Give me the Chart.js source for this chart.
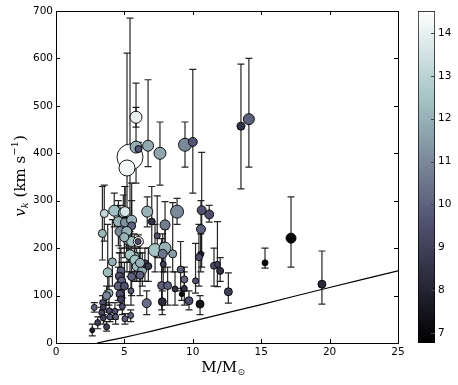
<!DOCTYPE html>
<html>
<head>
<meta charset="utf-8">
<script src="https://cdn.jsdelivr.net/npm/chart.js@4.4.1/dist/chart.umd.min.js"></script>
<style>
  html, body { margin: 0; padding: 0; background: #fff; }
  #wrap { position: relative; width: 458px; height: 385px; }
  #main { position: absolute; left: 0; top: 0; }
  #cbar { position: absolute; left: 400px; top: 0; }
</style>
</head>
<body>
<div id="wrap">
  <canvas id="main" width="458" height="385"></canvas>
  <canvas id="cbar" width="58" height="385"></canvas>
</div>
<script>
// ---------------- DATA ----------------
const massVals = [5.41, 5.19, 5.85, 5.85, 6.03, 6.73, 7.6, 9.43, 10.0, 13.52, 14.1, 17.18, 15.28, 19.44, 12.6,
  3.53, 4.26, 4.92, 5.04, 4.56, 5.04, 5.53, 5.53, 4.68, 5.17, 3.39, 5.29, 5.53, 6.02, 6.0,
  6.67, 7.0, 7.97, 7.4, 7.24, 7.97, 7.8, 8.53, 8.85, 5.72, 5.41, 5.77, 5.9, 6.31, 6.5, 6.75, 7.84,
  10.65, 11.2, 10.6, 10.58, 10.45, 11.55, 11.8, 12.0, 9.11, 9.38, 10.2, 7.72, 8.16, 8.7, 9.38, 9.19,
  7.77, 9.72, 10.53, 6.63,
  4.12, 3.78, 4.75, 4.63, 4.8, 4.55, 5.0, 5.48, 3.87, 3.7, 4.68, 4.75, 2.8, 3.41, 3.46, 3.9, 3.34,
  4.85, 4.31, 3.95, 4.36, 5.46, 5.04, 3.46, 3.05, 3.7, 2.65, 5.53, 6.14, 6.14, 4.99];
const vkVals = [392, 369, 476, 413, 409, 416, 400, 418, 424, 457, 472, 221, 169, 124, 108,
  273, 279, 275, 277, 256, 254, 259, 247, 235, 235, 231, 217, 214, 214, 214,
  277, 256, 249, 226, 196, 200, 188, 188, 277, 181, 186, 175, 161, 154, 167, 162, 166,
  280, 271, 240, 187, 181, 163, 166, 152, 155, 134, 131, 121, 121, 114, 115, 103,
  87, 89, 82, 84,
  171, 149, 152, 141, 131, 120, 120, 110, 105, 100, 103, 92, 75, 85, 75, 68, 64,
  77, 67, 55, 55, 58, 51, 53, 43, 34, 27, 140, 143, 169, 223];
const vkLow = [235, 150, 455, 337, 395, 372, 333, 371, 316, 325, 371, 160, 158, 82, 84,
  215, 245, 240, 230, 205, 200, 210, 200, 190, 190, 175, 170, 170, 200, 205,
  245, 200, 200, 180, 150, 150, 150, 150, 250, 150, 140, 130, 130, 120, 130, 130, 120,
  160, 255, 190, 150, 120, 120, 119, 130, 110, 110, 105, 70, 80, 80, 80, 90,
  60, 70, 60, 60,
  120, 110, 110, 100, 100, 90, 80, 80, 80, 80, 80, 70, 65, 70, 60, 55, 55,
  60, 50, 45, 40, 45, 40, 40, 30, 25, 15, 100, 100, 130, 180];
const vkHigh = [685, 611, 497, 548, 423, 555, 466, 466, 577, 588, 600, 308, 200, 194, 148,
  333, 316, 312, 330, 300, 330, 337, 300, 290, 285, 330, 260, 250, 228, 222,
  308, 330, 298, 310, 250, 240, 230, 296, 305, 230, 260, 215, 200, 190, 200, 200, 210,
  402, 290, 300, 230, 250, 200, 256, 180, 214, 160, 210, 220, 160, 150, 150, 115,
  110, 110, 100, 110,
  260, 250, 200, 190, 170, 160, 170, 150, 140, 120, 130, 120, 85, 100, 90, 85, 75,
  95, 85, 65, 70, 70, 62, 65, 55, 45, 40, 180, 190, 210, 265];
const colorVals = [14.5, 14.3, 14.0, 11.9, 9.6, 11.8, 11.7, 11.0, 9.6, 8.5, 10.0, 7.0, 7.1, 8.2, 9.0,
  13.2, 12.4, 12.5, 13.6, 12.0, 11.2, 12.0, 10.0, 11.0, 12.0, 12.2, 12.0, 12.5, 14.3, 9.5,
  12.0, 8.5, 10.7, 9.6, 12.5, 12.0, 10.5, 11.5, 11.0, 12.3, 12.5, 12.5, 12.3, 11.8, 9.0, 8.7, 9.0,
  9.6, 9.5, 10.0, 8.0, 9.5, 9.4, 9.0, 8.5, 10.0, 10.2, 9.6, 10.0, 10.0, 8.5, 8.5, 7.0,
  8.3, 9.5, 7.5, 10.3,
  12.0, 12.3, 10.0, 9.5, 10.0, 10.0, 9.5, 9.8, 12.0, 11.0, 9.5, 9.0, 10.0, 9.5, 9.0, 9.3, 9.3,
  9.5, 9.5, 9.8, 10.0, 10.0, 10.0, 9.0, 9.0, 9.0, 8.0, 10.0, 10.0, 12.0, 12.0];
const sizeVals = [13, 8, 6, 6, 3.5, 5.5, 6, 6.5, 4.5, 4, 5.5, 5, 3, 4, 4,
  4, 5.5, 5, 5, 5, 4.5, 5, 4, 5, 5, 4, 5, 5, 5, 3,
  5.5, 3.5, 5, 3, 6.5, 6, 4.5, 4, 6.5, 5, 5, 5, 4.5, 4.5, 4, 3.5, 3,
  4.5, 4.5, 4.5, 3, 3.5, 3.5, 3, 3.5, 3.5, 3.5, 3, 4, 4, 3, 3, 2.5,
  4, 4, 4, 4.5,
  4, 4.5, 4, 4, 4, 4, 4, 3, 4, 4, 4, 3.5, 3, 3, 3, 3, 3,
  3, 3, 3, 3, 3, 3, 3, 3, 3, 2.5, 4, 4, 4.5, 4.5];
const lineMass = [3, 5, 7, 10, 12.7, 15, 20, 25];
const lineVk = [0, 12, 25, 46, 65, 81, 117, 152];
const xTicks = [0, 5, 10, 15, 20, 25];
const yTicks = [0, 100, 200, 300, 400, 500, 600, 700];
const cbTicks = [7, 8, 9, 10, 11, 12, 13, 14];
const cbMin = 6.77, cbMax = 14.51;
const xTitleMain = 'M/M', xTitleSub = '\u2299';
const yTitleV = 'v', yTitleSub = 'k', yTitleUnit = ' (km s', yTitleSup = '\u22121', yTitleEnd = ')';

// ---------------- COLORMAP (bone) ----------------
function interp(pts, t) {
  for (let i = 1; i < pts.length; i++) {
    if (t <= pts[i][0]) {
      const [x0, y0] = pts[i - 1], [x1, y1] = pts[i];
      return y0 + (y1 - y0) * (t - x0) / (x1 - x0);
    }
  }
  return pts[pts.length - 1][1];
}
function boneT(t) {
  t = Math.max(0, Math.min(1, t));
  const r = interp([[0, 0], [0.746032, 0.652778], [1, 1]], t);
  const g = interp([[0, 0], [0.365079, 0.319444], [0.746032, 0.777778], [1, 1]], t);
  const b = interp([[0, 0], [0.365079, 0.444444], [1, 1]], t);
  return `rgb(${Math.round(r * 255)},${Math.round(g * 255)},${Math.round(b * 255)})`;
}
function bone(v) { return boneT((v - cbMin) / (cbMax - cbMin)); }

const tickFont = { family: 'DejaVu Sans', size: 10.5 };

// ---------------- PLUGINS ----------------
const errorBarPlugin = {
  id: 'errorBars',
  beforeDatasetsDraw(chart) {
    const ctx = chart.ctx, xs = chart.scales.x, ys = chart.scales.y;
    ctx.save();
    ctx.strokeStyle = 'rgba(20,20,20,0.92)';
    ctx.lineWidth = 1.2;
    for (let i = 0; i < massVals.length; i++) {
      const px = xs.getPixelForValue(massVals[i]);
      const yl = ys.getPixelForValue(vkLow[i]);
      const yh = ys.getPixelForValue(vkHigh[i]);
      ctx.beginPath();
      ctx.moveTo(px, yl); ctx.lineTo(px, yh);
      ctx.moveTo(px - 3.5, yl); ctx.lineTo(px + 3.5, yl);
      ctx.moveTo(px - 3.5, yh); ctx.lineTo(px + 3.5, yh);
      ctx.stroke();
    }
    ctx.restore();
  }
};

const framePlugin = {
  id: 'frame',
  afterDatasetsDraw(chart) {
    const ctx = chart.ctx, a = chart.chartArea, xs = chart.scales.x, ys = chart.scales.y;
    ctx.save();
    ctx.strokeStyle = '#000';
    ctx.lineWidth = 1;
    ctx.beginPath();
    xTicks.forEach(v => {
      const p = Math.round(xs.getPixelForValue(v)) + 0.5;
      ctx.moveTo(p, a.bottom); ctx.lineTo(p, a.bottom - 4);
      ctx.moveTo(p, a.top); ctx.lineTo(p, a.top + 4);
    });
    yTicks.forEach(v => {
      const p = Math.round(ys.getPixelForValue(v)) + 0.5;
      ctx.moveTo(a.left, p); ctx.lineTo(a.left + 4, p);
      ctx.moveTo(a.right, p); ctx.lineTo(a.right - 4, p);
    });
    ctx.stroke();
    ctx.strokeRect(Math.round(a.left) + 0.5, Math.round(a.top) + 0.5,
      Math.round(a.right - a.left), Math.round(a.bottom - a.top));
    ctx.restore();
  },
  afterDraw(chart) {
    const ctx = chart.ctx, a = chart.chartArea;
    ctx.save();
    ctx.fillStyle = '#000';
    ctx.textBaseline = 'alphabetic';
    // x title
    ctx.font = '15px "DejaVu Serif"';
    const wMain = ctx.measureText(xTitleMain).width;
    ctx.font = '9px "DejaVu Sans"';
    const wSub = ctx.measureText(xTitleSub).width;
    const cx = (a.left + a.right) / 2 - 4;
    let x0 = cx - (wMain + wSub) / 2;
    ctx.font = '15px "DejaVu Serif"';
    ctx.fillText(xTitleMain, x0, 372);
    ctx.font = '9px "DejaVu Sans"';
    ctx.fillText(xTitleSub, x0 + wMain + 0.5, 375);
    // y title (rotated)
    ctx.translate(25, 176);
    ctx.rotate(-Math.PI / 2);
    const parts = [
      { t: yTitleV, f: 'italic 15px "DejaVu Serif"', dy: 0 },
      { t: yTitleSub, f: 'italic 10px "DejaVu Serif"', dy: 3 },
      { t: yTitleUnit, f: '15px "DejaVu Serif"', dy: 0 },
      { t: yTitleSup, f: '10px "DejaVu Serif"', dy: -7 },
      { t: yTitleEnd, f: '15px "DejaVu Serif"', dy: 0 }
    ];
    let total = 0;
    parts.forEach(p => { ctx.font = p.f; p.w = ctx.measureText(p.t).width; total += p.w; });
    let xx = -total / 2;
    parts.forEach(p => { ctx.font = p.f; ctx.fillText(p.t, xx, p.dy); xx += p.w; });
    ctx.restore();
  }
};

// ---------------- MAIN CHART ----------------
new Chart(document.getElementById('main'), {
  type: 'scatter',
  data: {
    datasets: [
      {
        label: 'kicks',
        data: massVals.map((m, i) => ({ x: m, y: vkVals[i] })),
        pointRadius: sizeVals,
        pointBackgroundColor: colorVals.map(bone),
        pointBorderColor: '#000',
        pointBorderWidth: 0.9,
        order: 1
      },
      {
        type: 'line',
        label: 'limit',
        data: lineMass.map((m, i) => ({ x: m, y: lineVk[i] })),
        borderColor: '#000',
        borderWidth: 1.2,
        pointRadius: 0,
        showLine: true,
        fill: false,
        tension: 0.3,
        order: 2
      }
    ]
  },
  options: {
    responsive: false,
    animation: false,
    events: [],
    layout: { padding: { left: 0, right: 60, top: 11, bottom: 0 }, autoPadding: false },
    plugins: { legend: { display: false }, tooltip: { enabled: false } },
    scales: {
      x: {
        type: 'linear', min: 0, max: 25,
        afterBuildTicks: s => { s.ticks = xTicks.map(v => ({ value: v })); },
        afterFit: s => { s.height = 42; },
        ticks: { font: tickFont, color: '#000', padding: 3, maxRotation: 0, autoSkip: false },
        grid: { display: false, drawTicks: false },
        border: { display: false }
      },
      y: {
        type: 'linear', min: 0, max: 700,
        afterBuildTicks: s => { s.ticks = yTicks.map(v => ({ value: v })); },
        afterFit: s => { s.width = 56; },
        ticks: { font: tickFont, color: '#000', padding: 3, autoSkip: false },
        grid: { display: false, drawTicks: false },
        border: { display: false }
      }
    }
  },
  plugins: [errorBarPlugin, framePlugin]
});

// ---------------- COLORBAR ----------------
const cbTickPlugin = {
  id: 'cbTicks',
  afterDatasetsDraw(chart) {
    const ctx = chart.ctx, a = chart.chartArea, ys = chart.scales.y;
    ctx.save();
    ctx.strokeStyle = '#444';
    ctx.lineWidth = 1;
    ctx.beginPath();
    cbTicks.forEach(v => {
      const p = Math.round(ys.getPixelForValue(v)) + 0.5;
      ctx.moveTo(a.right - 4, p); ctx.lineTo(a.right, p);
    });
    ctx.stroke();
    ctx.restore();
  }
};

new Chart(document.getElementById('cbar'), {
  type: 'bar',
  data: {
    labels: [''],
    datasets: [{
      data: [[cbMin, cbMax]],
      backgroundColor: (c) => {
        const area = c.chart.chartArea;
        if (!area) return '#888';
        const g = c.chart.ctx.createLinearGradient(0, area.bottom, 0, area.top);
        for (let k = 0; k <= 40; k++) g.addColorStop(k / 40, boneT(k / 40));
        return g;
      },
      borderColor: '#000',
      borderWidth: 1,
      borderSkipped: false,
      barPercentage: 1,
      categoryPercentage: 1
    }]
  },
  options: {
    responsive: false,
    animation: false,
    events: [],
    layout: { padding: { left: 18, right: 0, top: 11, bottom: 42 }, autoPadding: false },
    plugins: { legend: { display: false }, tooltip: { enabled: false } },
    scales: {
      x: { display: false },
      y: {
        position: 'right', min: cbMin, max: cbMax,
        afterBuildTicks: s => { s.ticks = cbTicks.map(v => ({ value: v })); },
        afterFit: s => { s.width = 23; },
        ticks: { font: tickFont, color: '#000', padding: 3, autoSkip: false },
        grid: { display: false, drawTicks: false },
        border: { display: false }
      }
    }
  },
  plugins: [cbTickPlugin]
});
</script>
</body>
</html>
